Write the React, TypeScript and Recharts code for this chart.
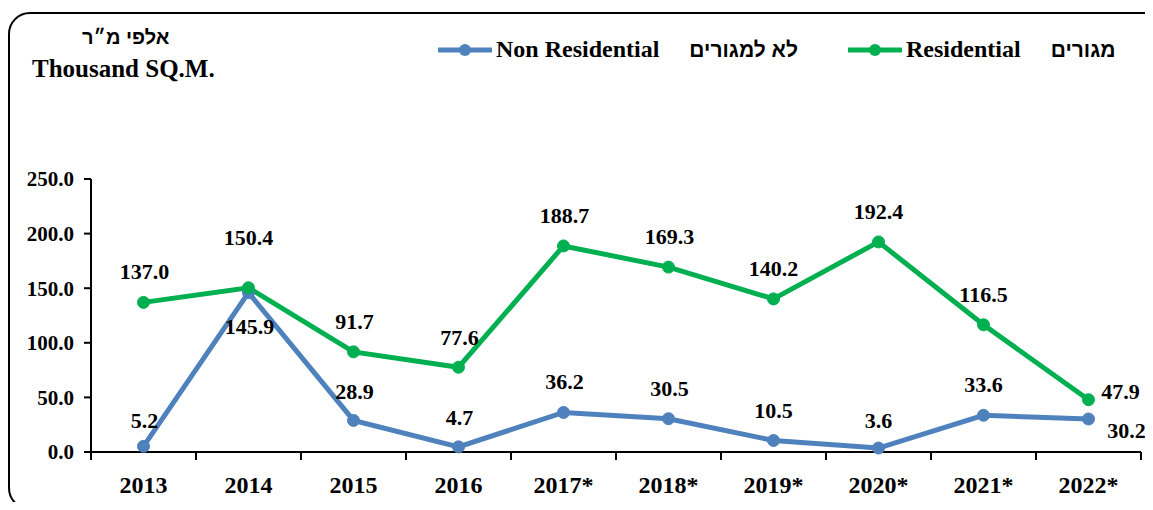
import React from 'react';
import { LineChart, Line, XAxis, YAxis, LabelList } from 'recharts';

const years = ['2013', '2014', '2015', '2016', '2017*', '2018*', '2019*', '2020*', '2021*', '2022*'];
const residential = [137.0, 150.4, 91.7, 77.6, 188.7, 169.3, 140.2, 192.4, 116.5, 47.9];
const nonResidential = [5.2, 145.9, 28.9, 4.7, 36.2, 30.5, 10.5, 3.6, 33.6, 30.2];
const yTicks = [0, 50, 100, 150, 200, 250];

const data = years.map((year, i) => ({
  year,
  residential: residential[i],
  nonResidential: nonResidential[i],
}));

const BLUE = '#4F81BD';
const GREEN = '#00B050';
const SERIF = "'Liberation Serif', 'Times New Roman', serif";
const SANS = "'Liberation Sans', Arial, sans-serif";
const HALF_BAND = 52.5;

// label placement relative to each point (dx, dy)
const greenLabelPos: [number, number][] = [
  [1, -31], [0, -50], [1, -30], [1, -30], [1, -30], [1, -31], [0, -30], [0, -30], [0, -30], [32, -8],
];
const blueLabelPos: [number, number][] = [
  [1, -26], [1, 34], [1, -29], [1, -29], [1, -31], [1, -30], [0, -30], [0, -28], [0, -31], [38, 11],
];

const makeLabel = (pos: [number, number][]) => (props: any) => {
  const { x, y, index, value } = props;
  const [dx, dy] = pos[index] || [0, -30];
  return (
    <text
      x={x + dx}
      y={y + dy}
      textAnchor="middle"
      dominantBaseline="central"
      fontFamily={SERIF}
      fontWeight="bold"
      fontSize={22}
      fill="#000"
    >
      {Number(value).toFixed(1)}
    </text>
  );
};

const XTick = (props: any) => {
  const { x, y, payload, index } = props;
  return (
    <g>
      <line x1={x - HALF_BAND} y1={y} x2={x - HALF_BAND} y2={y + 8} stroke="#000" strokeWidth={2} />
      {index === years.length - 1 && (
        <line x1={x + HALF_BAND} y1={y} x2={x + HALF_BAND} y2={y + 8} stroke="#000" strokeWidth={2} />
      )}
      <text
        x={x}
        y={y + 33}
        textAnchor="middle"
        dominantBaseline="central"
        fontFamily={SERIF}
        fontWeight="bold"
        fontSize={24}
        fill="#000"
      >
        {payload.value}
      </text>
    </g>
  );
};

const LegendItem = ({ color, en, he, left }: { color: string; en: string; he: string; left: number }) => (
  <div style={{ position: 'absolute', left, top: 36, display: 'flex', alignItems: 'center', whiteSpace: 'nowrap' }}>
    <svg width={54} height={16}>
      <line x1={1} y1={8} x2={53} y2={8} stroke={color} strokeWidth={5} strokeLinecap="round" />
      <circle cx={27} cy={8} r={6} fill={color} />
    </svg>
    <span style={{ fontFamily: SERIF, fontWeight: 'bold', fontSize: 24, marginLeft: 4 }}>{en}</span>
    <span style={{ fontFamily: SANS, fontWeight: 'bold', fontSize: 21, marginLeft: 30 }} dir="rtl">{he}</span>
  </div>
);

export default function App() {
  return (
    <div style={{ position: 'relative', width: 1153, height: 510, margin: -8, overflow: 'hidden', background: '#fff' }}>
      <div
        style={{
          position: 'absolute',
          left: 8,
          top: 12,
          width: 1153,
          height: 494,
          border: '2px solid #000',
          borderRadius: 22,
        }}
      />
      <div style={{ position: 'absolute', left: 82, top: 26, fontFamily: SANS, fontWeight: 'bold', fontSize: 20 }} dir="rtl">
        אלפי מ״ר
      </div>
      <div style={{ position: 'absolute', left: 32, top: 55, fontFamily: SERIF, fontWeight: 'bold', fontSize: 25 }}>
        Thousand SQ.M.
      </div>
      <LegendItem color={BLUE} en="Non Residential" he="לא למגורים" left={438} />
      <LegendItem color={GREEN} en="Residential" he="מגורים" left={848} />

      <div style={{ position: 'absolute', left: 0, top: 0 }}>
        <LineChart width={1153} height={510} data={data} margin={{ top: 179, right: 12, bottom: 18, left: 0 }}>
          <XAxis
            dataKey="year"
            height={40}
            padding={{ left: HALF_BAND, right: HALF_BAND }}
            tickLine={false}
            tickSize={0}
            tickMargin={0}
            axisLine={{ stroke: '#000', strokeWidth: 2 }}
            tick={<XTick />}
            interval={0}
          />
          <YAxis
            width={91}
            domain={[0, 250]}
            ticks={yTicks}
            tickFormatter={(v: number) => v.toFixed(1)}
            tickSize={7}
            tickMargin={10}
            axisLine={{ stroke: '#000', strokeWidth: 2 }}
            tickLine={{ stroke: '#000', strokeWidth: 2 }}
            tick={{ fontFamily: SERIF, fontWeight: 'bold', fontSize: 21, fill: '#000' }}
          />
          <Line
            dataKey="nonResidential"
            stroke={BLUE}
            strokeWidth={5}
            dot={{ r: 6, fill: BLUE, stroke: BLUE, strokeWidth: 1 }}
            isAnimationActive={false}
          >
            <LabelList dataKey="nonResidential" content={makeLabel(blueLabelPos)} />
          </Line>
          <Line
            dataKey="residential"
            stroke={GREEN}
            strokeWidth={5}
            dot={{ r: 6, fill: GREEN, stroke: GREEN, strokeWidth: 1 }}
            isAnimationActive={false}
          >
            <LabelList dataKey="residential" content={makeLabel(greenLabelPos)} />
          </Line>
        </LineChart>
      </div>
    </div>
  );
}
